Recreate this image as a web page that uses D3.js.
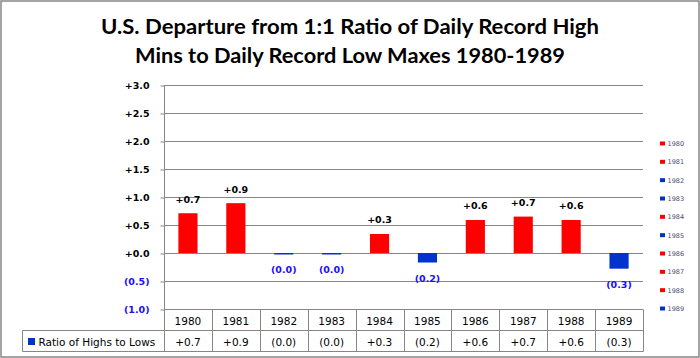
<!DOCTYPE html>
<html>
<head>
<meta charset="utf-8">
<script src="https://cdn.jsdelivr.net/npm/d3@7"></script>
<style>
  body { margin: 0; background: #fff; }
  svg { display: block; }
</style>
</head>
<body>
<div id="chart"></div>
<script>
// chart data
var years = ["1980", "1981", "1982", "1983", "1984", "1985", "1986", "1987", "1988", "1989"];
var ratios = [0.71, 0.89, -0.02, -0.02, 0.34, -0.17, 0.59, 0.65, 0.59, -0.28];
var yTicks = [-1.0, -0.5, 0.0, 0.5, 1.0, 1.5, 2.0, 2.5, 3.0];
var seriesName = "Ratio of Highs to Lows";
var titleLines = ["U.S. Departure from 1:1 Ratio of Daily Record High",
                  "Mins to Daily Record Low Maxes 1980-1989"];

var width = 700, height = 358;
var plot = {left: 164, right: 643, top: 85, bottom: 309};
var rowH = 21;
var gridColor = "#868686";
var red = "#ff0000", blue = "#0033cc", negText = "#1a0dff";

function fmt(v) {
    return v >= 0 ? "+" + v.toFixed(1) : "(" + Math.abs(v).toFixed(1) + ")";
}

var data = years.map(function(y, i) { return {year: y, value: ratios[i]}; });

var svg = d3.select("#chart").append("svg")
    .attr("width", width)
    .attr("height", height);

// outer frame
svg.append("rect")
    .attr("x", 1).attr("y", 1)
    .attr("width", width - 2).attr("height", height - 2)
    .attr("fill", "#fff")
    .attr("stroke", gridColor)
    .attr("stroke-width", 1.5);

// title
svg.selectAll(".title")
    .data(titleLines)
    .enter()
    .append("text")
        .attr("class", "title")
        .attr("x", 350)
        .attr("y", function(d, i) { return 34 + i * 29; })
        .attr("text-anchor", "middle")
        .attr("textLength", function(d, i) { return i === 0 ? 498 : 430; })
        .attr("lengthAdjust", "spacingAndGlyphs")
        .style("font-family", "Lato, 'Open Sans', sans-serif")
        .style("font-weight", "bold")
        .style("font-size", "20px")
        .style("fill", "#000")
        .text(function(d) { return d; });

// scales
var y = d3.scaleLinear()
    .domain([-1, 3])
    .range([plot.bottom, plot.top]);

var x = d3.scaleBand()
    .domain(years)
    .range([plot.left, plot.right])
    .paddingInner(0.6)
    .paddingOuter(0.3);

var col = d3.scaleBand()
    .domain(years)
    .range([plot.left, plot.right]);

// gridlines
svg.append("g")
    .selectAll("line")
    .data(yTicks)
    .enter()
    .append("line")
        .attr("x1", plot.left).attr("x2", plot.right)
        .attr("y1", function(d) { return Math.round(y(d)) + 0.5; })
        .attr("y2", function(d) { return Math.round(y(d)) + 0.5; })
        .attr("stroke", gridColor);

// y axis
var yAxis = svg.append("g")
    .attr("transform", "translate(" + (plot.left + 0.5) + ",0.5)")
    .call(d3.axisLeft(y).tickValues(yTicks).tickSize(4).tickPadding(11).tickFormat(fmt));
yAxis.select(".domain").remove();
yAxis.selectAll(".tick line").attr("stroke", gridColor);
yAxis.selectAll(".tick text")
    .style("font-family", "'DejaVu Sans', sans-serif")
    .style("font-weight", "bold")
    .style("font-size", "9.5px")
    .style("fill", function(d) { return d < 0 ? negText : "#000"; });

// bars
svg.append("g")
    .selectAll("rect")
    .data(data)
    .enter()
    .append("rect")
        .attr("x", function(d) { return x(d.year); })
        .attr("y", function(d) { return y(Math.max(0, d.value)); })
        .attr("width", x.bandwidth())
        .attr("height", function(d) { return Math.max(1.5, Math.abs(y(d.value) - y(0))); })
        .attr("fill", function(d) { return d.value >= 0 ? red : blue; });

// data labels
svg.append("g")
    .selectAll("text")
    .data(data)
    .enter()
    .append("text")
        .attr("x", function(d) { return x(d.year) + x.bandwidth() / 2; })
        .attr("y", function(d) { return d.value >= 0 ? y(d.value) - 10.5 : y(d.value) + 19; })
        .attr("text-anchor", "middle")
        .style("font-family", "'DejaVu Sans', sans-serif")
        .style("font-weight", "bold")
        .style("font-size", "9.5px")
        .style("fill", function(d) { return d.value >= 0 ? "#000" : negText; })
        .text(function(d) { return fmt(d.value); });

// data table
var table = svg.append("g")
    .attr("stroke", gridColor)
    .attr("stroke-width", 1);

var tTop = plot.bottom + 0.5, tMid = tTop + rowH, tBot = tMid + rowH;
var legLeft = 22.5;

// vertical axis line through table
table.append("line")
    .attr("x1", plot.left + 0.5).attr("x2", plot.left + 0.5)
    .attr("y1", plot.top).attr("y2", tBot);
table.selectAll(".colline")
    .data(years)
    .enter()
    .append("line")
        .attr("x1", function(d) { return Math.round(col(d) + col.bandwidth()) + 0.5; })
        .attr("x2", function(d) { return Math.round(col(d) + col.bandwidth()) + 0.5; })
        .attr("y1", tTop).attr("y2", tBot);
table.append("line")
    .attr("x1", legLeft).attr("x2", plot.right + 0.5)
    .attr("y1", tMid).attr("y2", tMid);
table.append("line")
    .attr("x1", legLeft).attr("x2", plot.right + 0.5)
    .attr("y1", tBot).attr("y2", tBot);
table.append("line")
    .attr("x1", legLeft).attr("x2", legLeft)
    .attr("y1", tMid).attr("y2", tBot);

var cellFont = function(sel) {
    sel.style("font-family", "'DejaVu Sans', sans-serif")
        .style("font-size", "10.5px")
        .style("fill", "#000")
        .attr("text-anchor", "middle");
};

svg.append("g")
    .selectAll("text")
    .data(years)
    .enter()
    .append("text")
        .attr("x", function(d) { return col(d) + col.bandwidth() / 2; })
        .attr("y", tTop + 15)
        .call(cellFont)
        .text(function(d) { return d; });

svg.append("g")
    .selectAll("text")
    .data(data)
    .enter()
    .append("text")
        .attr("x", function(d) { return col(d.year) + col.bandwidth() / 2; })
        .attr("y", tMid + 15)
        .call(cellFont)
        .text(function(d) { return fmt(d.value); });

// series key in table
svg.append("rect")
    .attr("x", 28).attr("y", tMid + 7.5)
    .attr("width", 7).attr("height", 7)
    .attr("fill", blue);
svg.append("text")
    .attr("x", 38.5)
    .attr("y", tMid + 15)
    .style("font-family", "'DejaVu Sans', sans-serif")
    .style("font-size", "10.5px")
    .style("fill", "#000")
    .text(seriesName);

// right legend
var ly = d3.scalePoint()
    .domain(years)
    .range([143.5, 308.5]);

var legend = svg.append("g")
    .selectAll("g")
    .data(data)
    .enter()
    .append("g")
        .attr("transform", function(d) { return "translate(660," + ly(d.year) + ")"; });
legend.append("rect")
    .attr("x", 0).attr("y", -2)
    .attr("width", 5).attr("height", 4)
    .attr("fill", function(d) { return d.value >= 0 ? red : blue; });
legend.append("text")
    .attr("x", 7.5).attr("y", 2.5)
    .style("font-family", "'DejaVu Sans', sans-serif")
    .style("font-size", "6.5px")
    .style("fill", "#4a4a70")
    .text(function(d) { return d.year; });
</script>
</body>
</html>
